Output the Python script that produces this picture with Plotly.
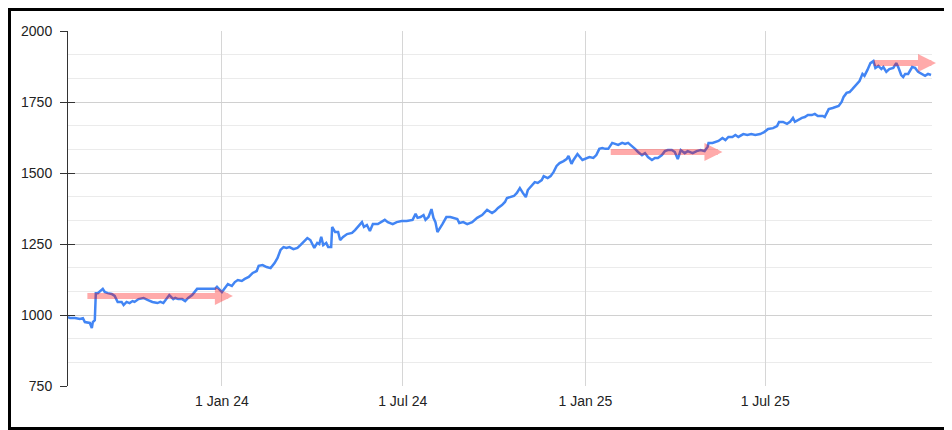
import pandas as pd
import plotly.graph_objects as go

# ---------------- data ----------------
BASE_DATE = "2023-07-30"          # day 0 of the series
X_END_DAY = 870                   # last day shown on the x axis

DAY_OFFSET = [
    0, 2, 7, 12, 15, 17, 22, 24, 25, 27, 28, 30, 35, 37, 40, 44, 47, 50, 54, 56,
    59, 62, 65, 67, 71, 76, 80, 85, 90, 93, 96, 100, 102, 106, 108, 111, 115, 118, 121, 125,
    128, 130, 148, 150, 155, 158, 161, 165, 168, 171, 175, 178, 182, 186, 190, 192, 196, 200, 204, 208,
    211, 214, 217, 220, 223, 227, 231, 234, 237, 241, 244, 248, 251, 253, 255, 257, 260, 262, 265, 266,
    269, 272, 274, 277, 281, 286, 289, 293, 296, 298, 301, 304, 307, 312, 316, 319, 322, 327, 331, 336,
    341, 347, 350, 352, 355, 358, 360, 363, 366, 368, 370, 372, 377, 381, 385, 388, 392, 394, 398, 402,
    407, 412, 417, 422, 427, 430, 433, 437, 440, 442, 446, 449, 452, 455, 458, 461, 463, 467, 470, 473,
    477, 479, 483, 486, 489, 492, 495, 499, 502, 504, 507, 509, 513, 518, 522, 525, 529, 532, 535, 538,
    541, 544, 548, 551, 554, 558, 561, 564, 568, 571, 574, 578, 581, 584, 588, 591, 594, 598, 601, 604,
    608, 611, 614, 617, 621, 624, 629, 633, 637, 641, 644, 645, 649, 652, 655, 659, 662, 665, 669, 672,
    675, 680, 684, 688, 692, 697, 701, 705, 710, 714, 716, 720, 724, 727, 730, 732, 735, 739, 742, 745,
    749, 752, 755, 760, 762, 764, 766, 770, 773, 776, 779, 781, 784, 787, 790, 792, 795, 797, 800, 802,
    805, 808, 811, 813, 816, 819, 821, 824, 827, 831, 834, 836, 839, 841, 843, 846, 850, 853, 856, 860,
    863, 866, 869,
]

VALUE = [
    993, 989, 989, 986, 989, 975, 972, 954, 975, 982, 1077, 1077, 1092, 1081, 1077, 1074, 1067, 1046, 1046, 1035,
    1046, 1042, 1049, 1046, 1056, 1060, 1053, 1046, 1042, 1046, 1042, 1060, 1070, 1056, 1060, 1056, 1056, 1049, 1060, 1070,
    1085, 1092, 1092, 1099, 1081, 1095, 1109, 1102, 1116, 1123, 1120, 1127, 1134, 1148, 1155, 1173, 1176, 1169, 1165, 1183,
    1201, 1229, 1239, 1236, 1239, 1232, 1236, 1246, 1257, 1271, 1264, 1236, 1254, 1250, 1275, 1246, 1254, 1239, 1239, 1310,
    1292, 1292, 1264, 1275, 1285, 1289, 1299, 1313, 1327, 1310, 1317, 1296, 1320, 1320, 1327, 1335, 1327, 1320, 1327, 1331,
    1331, 1335, 1356, 1342, 1345, 1352, 1335, 1345, 1373, 1342, 1327, 1292, 1320, 1345, 1345, 1342, 1338, 1324, 1327, 1320,
    1327, 1342, 1352, 1370, 1359, 1366, 1377, 1387, 1398, 1412, 1415, 1419, 1430, 1447, 1430, 1415, 1440, 1458, 1468, 1465,
    1475, 1489, 1482, 1489, 1504, 1525, 1535, 1542, 1549, 1560, 1532, 1546, 1567, 1546, 1553, 1556, 1553, 1563, 1585, 1588,
    1585, 1585, 1606, 1602, 1599, 1606, 1602, 1606, 1595, 1585, 1574, 1563, 1570, 1556, 1546, 1553, 1553, 1563, 1577, 1581,
    1581, 1574, 1549, 1581, 1570, 1577, 1570, 1577, 1581, 1577, 1592, 1606, 1606, 1609, 1613, 1623, 1616, 1627, 1627, 1634,
    1627, 1637, 1634, 1637, 1634, 1637, 1644, 1655, 1658, 1665, 1680, 1680, 1673, 1680, 1694, 1680, 1687, 1694, 1697, 1704,
    1704, 1708, 1701, 1701, 1697, 1711, 1725, 1729, 1732, 1736, 1750, 1768, 1782, 1785, 1796, 1803, 1817, 1824, 1849, 1842,
    1863, 1887, 1894, 1870, 1877, 1866, 1873, 1856, 1866, 1870, 1887, 1873, 1845, 1838, 1849, 1849, 1873, 1870, 1856, 1849,
    1842, 1849, 1845,
]

# trend arrows (start day, end day, level)
ARROW_START_DAY = [18, 545, 810]
ARROW_END_DAY = [166, 659, 874]
ARROW_LEVEL = [1067, 1574, 1887]

Y_MIN, Y_MAX, Y_STEP = 750, 2000, 250
X_TICKS = ["2024-01-01", "2024-07-01", "2025-01-01", "2025-07-01"]
X_TICK_TEXT = ["1 Jan 24", "1 Jul 24", "1 Jan 25", "1 Jul 25"]

# ---------------- figure ----------------
# the page places the figure 8px from the top-left corner of the window
W, H = 944, 422
ML, MR, MT, MB = 60, 20, 23, 44
FONT = "Arial, 'Liberation Sans', sans-serif"

base = pd.Timestamp(BASE_DATE)
dates = [base + pd.Timedelta(days=d) for d in DAY_OFFSET]
x_end = base + pd.Timedelta(days=X_END_DAY)

fig = go.Figure()
fig.add_trace(go.Scatter(
    x=dates, y=VALUE, mode="lines",
    line=dict(color="#4285F4", width=2.5),
    hoverinfo="skip", showlegend=False,
))
# invisible trace to carry the overlaid axis (ticks crossing the y axis line)
fig.add_trace(go.Scatter(
    x=[dates[0]], y=[VALUE[0]], yaxis="y2", mode="lines",
    line=dict(width=0), hoverinfo="skip", showlegend=False,
))

for s, e, lv in zip(ARROW_START_DAY, ARROW_END_DAY, ARROW_LEVEL):
    fig.add_annotation(
        x=base + pd.Timedelta(days=e), y=lv,
        ax=base + pd.Timedelta(days=s), ay=lv,
        xref="x", yref="y", axref="x", ayref="y",
        text="", showarrow=True,
        arrowhead=2, arrowwidth=6, arrowsize=0.6,
        arrowcolor="rgba(255,0,0,0.33)", standoff=0,
    )

pw, ph = W - ML - MR, H - MT - MB
fig.add_shape(
    type="rect", xref="paper", yref="paper",
    x0=(1.5 - ML) / pw, x1=(W - 1.5 - ML) / pw,
    y0=(H - MB - (H - 1.5)) / ph, y1=(H - MB - 1.5) / ph,
    line=dict(color="black", width=3), fillcolor="rgba(0,0,0,0)", layer="above",
)

fig.update_layout(
    width=W, height=H,
    margin=dict(l=ML, r=MR, t=MT, b=MB, pad=0),
    paper_bgcolor="white", plot_bgcolor="white",
    font=dict(family=FONT, size=14, color="#222222"),
    showlegend=False,
    xaxis=dict(
        type="date", range=[base, x_end],
        tickmode="array", tickvals=X_TICKS, ticktext=X_TICK_TEXT,
        showgrid=True, gridcolor="#d6d6d6", gridwidth=1,
        ticks="outside", ticklen=2, tickcolor="rgba(0,0,0,0)",
        showline=False, zeroline=False,
        tickfont=dict(size=14, color="#222222"),
    ),
    yaxis=dict(
        range=[Y_MIN, Y_MAX], tickmode="linear", tick0=Y_MIN, dtick=Y_STEP,
        showgrid=True, gridcolor="#d0d0d0", gridwidth=1,
        minor=dict(tick0=Y_MIN, dtick=Y_STEP / 3, showgrid=True, gridcolor="#ebebeb", gridwidth=1),
        showline=True, linecolor="#333333", linewidth=1,
        ticks="outside", ticklen=7, tickcolor="#333333", tickwidth=1,
        ticklabelstandoff=5, zeroline=False,
        tickfont=dict(size=14, color="#222222"),
    ),
    yaxis2=dict(
        overlaying="y", side="left", range=[Y_MIN, Y_MAX],
        tickmode="linear", tick0=Y_MIN, dtick=Y_STEP,
        ticks="inside", ticklen=7, tickcolor="#333333", tickwidth=1,
        showticklabels=False, showgrid=False, showline=False, zeroline=False,
    ),
)

fig.write_html("out.html")
